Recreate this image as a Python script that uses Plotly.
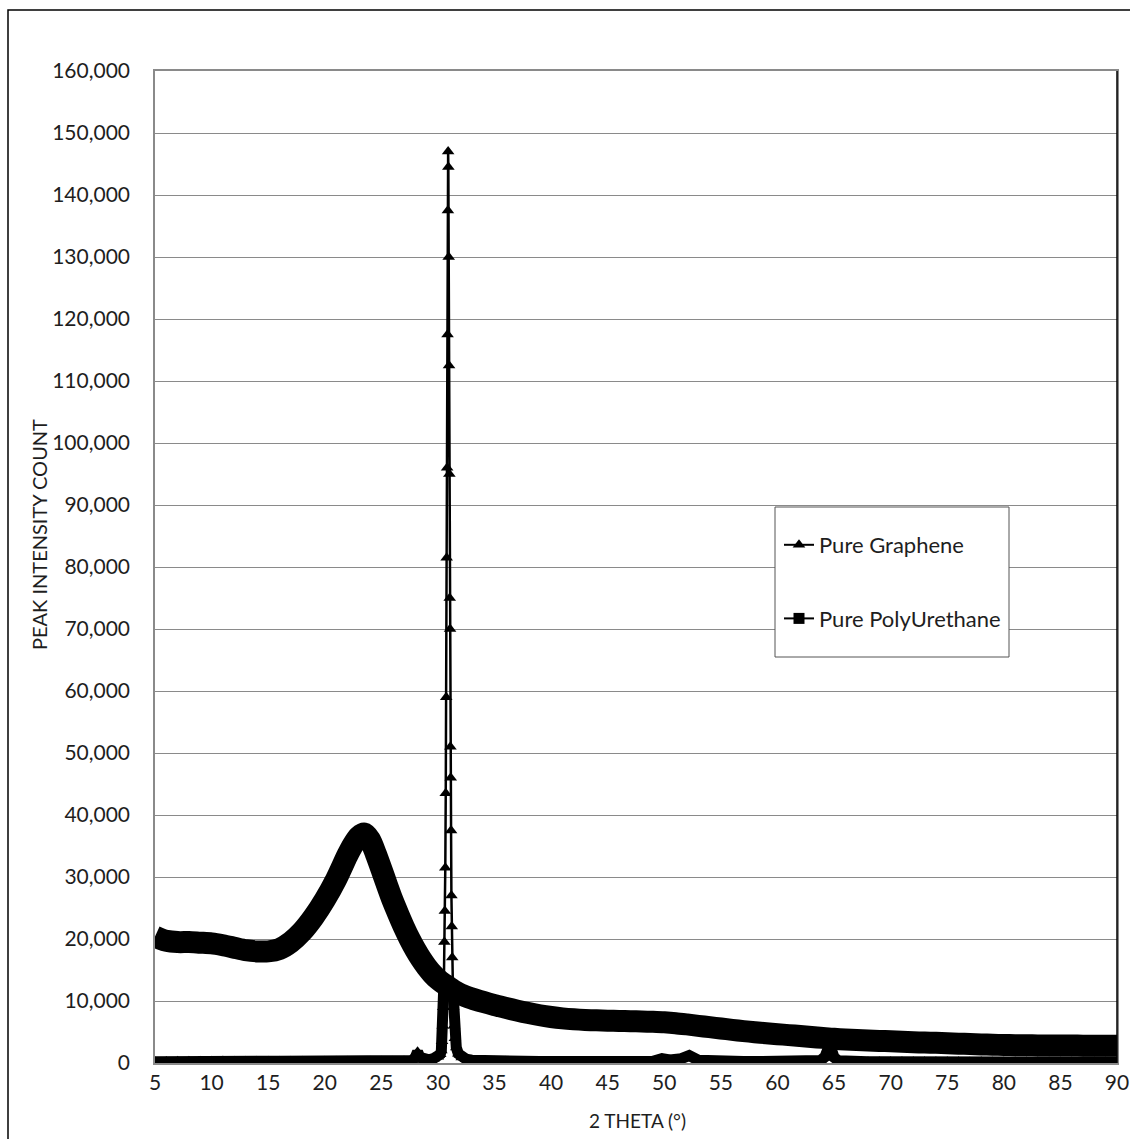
import plotly.graph_objects as go

# ---- data ----
x_ticks = list(range(5, 95, 5))
y_ticks = list(range(0, 170000, 10000))

pu_x = [5, 5.5, 6, 7, 8, 9, 10, 11, 12, 13, 14, 15, 16, 17, 18, 19, 20, 21, 22, 22.5, 23, 23.5,
        24, 24.5, 25, 25.5, 26, 26.5, 27, 27.5, 28, 28.5, 29, 29.5, 30, 30.5, 31, 31.5, 32, 33,
        34, 35, 36, 37, 38, 39, 40, 41, 42, 43, 44, 45, 46, 47, 48, 49, 50, 51, 52, 53, 54, 55,
        56, 57, 58, 59, 60, 61, 62, 63, 64, 65, 66, 67, 68, 69, 70, 71, 72, 73, 74, 75, 76, 77,
        78, 79, 80, 81, 82, 83, 84, 85, 86, 87, 88, 89, 90]
pu_y = [20400, 20000, 19700, 19500, 19500, 19400, 19300, 19000, 18600, 18200, 18000, 18000, 18400,
        19500, 21200, 23500, 26300, 29600, 33500, 35200, 36500, 37000,
        36000, 33800, 31300, 28700, 26200, 24000, 21900, 20000, 18300, 16800, 15500, 14400, 13500,
        12800, 12200, 11600, 11100, 10400,
        9850, 9350, 8900, 8450, 8050, 7700, 7420, 7200, 7050, 6950, 6880, 6830, 6780, 6740, 6700,
        6640, 6560, 6420, 6220, 6000, 5780, 5560,
        5350, 5150, 4960, 4800, 4650, 4500, 4350, 4200, 4050, 3900, 3800, 3700, 3630, 3560, 3500,
        3420, 3350, 3300, 3250, 3180, 3120, 3060,
        3000, 2950, 2900, 2880, 2860, 2840, 2830, 2820, 2810, 2800, 2800, 2800, 2800]

gr_x = [5, 6, 7, 8, 9, 10, 11, 12, 13, 14, 15, 16, 17, 18, 19, 20, 21, 22, 23, 24, 25, 26, 27,
        27.7, 28.0, 28.2, 28.4, 28.8, 29.2, 29.6, 30.0, 30.2,
        30.30, 30.36, 30.42, 30.47, 30.52, 30.57, 30.61, 30.65, 30.69, 30.73, 30.77, 30.81, 30.85,
        30.88, 30.90, 30.92, 30.95, 30.98, 31.01, 31.04, 31.07, 31.10, 31.13, 31.16, 31.19, 31.22,
        31.26, 31.30, 31.35, 31.42, 31.50, 31.62, 31.8, 32.1, 32.5,
        33, 34, 35, 36, 37, 38, 39, 40, 41, 42, 43, 44, 45, 46, 47, 48, 49, 49.8, 50.5, 51.5, 52.2,
        53, 54, 55, 56, 57, 58, 59, 60, 61, 62, 63, 63.8, 64.2, 64.4, 64.6, 64.8, 65.0, 65.4, 66,
        67, 68, 69, 70, 71, 72, 73, 74, 75, 76, 77, 78, 79, 80, 81, 82, 83, 84, 85, 86, 87, 88, 89, 90]
gr_y = [200, 250, 300, 300, 280, 300, 320, 300, 280, 300, 300, 280, 300, 280, 260, 280, 300, 280,
        260, 280, 300, 300, 320,
        400, 900, 1800, 900, 450, 500, 700, 1000, 1400,
        2000, 3500, 6000, 9000, 12500, 19500, 24500, 31500, 43500, 59000, 81500, 96000, 117500,
        137500, 147000, 144500, 130000, 112500, 95000, 75000, 70000, 51000, 46000, 37500, 27000, 22000,
        17000, 12500, 9000, 6000, 4000, 2500, 1500, 900, 600,
        450, 350, 300, 280, 260, 250, 240, 230, 240, 230, 220, 230, 220, 230, 240, 230, 260, 700, 500, 700, 1200,
        450, 300, 260, 250, 240, 230, 240, 230, 220, 230, 260, 400, 1000, 2000, 2900, 2000, 900, 350, 250,
        220, 210, 200, 210, 200, 190, 200, 190, 200, 190, 180, 190, 180, 170, 180, 170, 160, 170, 160,
        150, 160, 150, 150, 150]

FONT = "Lato"
TXT = "#1e1e1e"

# figure fills the window from (0, 0) (body margin and scrollbars removed in post_script)
W, H = 1130, 1139
L, R, T, B = 155, 13, 71, 76
PW, PH = W - L - R, H - T - B


def px_x(p):  # window pixel -> paper x
    return (p - L) / PW


def px_y(p):  # window pixel -> paper y
    return (H - B - p) / PH


fig = go.Figure()

fig.add_trace(go.Scatter(
    x=pu_x, y=pu_y, mode="lines", name="Pure PolyUrethane",
    line=dict(color="black", width=22, shape="spline", smoothing=0.7),
    showlegend=False, hoverinfo="skip"))

# graphene: thick band where counts are low, thin line on the sharp peak
gr_low = [v if v <= 13000 else None for v in gr_y]
fig.add_trace(go.Scatter(
    x=gr_x, y=gr_low, mode="lines", line=dict(color="black", width=11),
    showlegend=False, hoverinfo="skip", connectgaps=False))
fig.add_trace(go.Scatter(
    x=gr_x, y=gr_y, mode="lines+markers", name="Pure Graphene",
    line=dict(color="black", width=2.5),
    marker=dict(symbol="triangle-up", size=11, color="black"),
    showlegend=False, hoverinfo="skip"))

# legend-only entries
fig.add_trace(go.Scatter(
    x=[None], y=[None], mode="lines+markers", name="Pure Graphene", legendgroup="g",
    line=dict(color="black", width=2),
    marker=dict(symbol="triangle-up", size=11, color="black")))
fig.add_trace(go.Scatter(
    x=[None], y=[None], mode="lines+markers", name="Pure PolyUrethane", legendgroup="p",
    line=dict(color="black", width=2),
    marker=dict(symbol="square", size=11, color="black")))

fig.update_layout(
    width=W, height=H, autosize=False,
    margin=dict(l=L, r=R, t=T, b=B, autoexpand=False),
    paper_bgcolor="white", plot_bgcolor="white",
    font=dict(family=FONT, size=21, color=TXT),
    showlegend=True,
    legend=dict(
        x=px_x(779), y=px_y(524), xanchor="left", yanchor="top",
        borderwidth=0, bgcolor="rgba(0,0,0,0)",
        font=dict(family=FONT, size=22, color=TXT),
        tracegroupgap=42, itemwidth=30,
    ),
    xaxis=dict(
        range=[5, 90], tickmode="array", tickvals=x_ticks, ticktext=[str(v) for v in x_ticks],
        showgrid=False, zeroline=False, automargin=False,
        showline=True, linecolor="#8a8a8a", linewidth=1.5, mirror=True,
        ticks="", tickfont=dict(family=FONT, size=21, color=TXT), ticklabeloverflow="allow",
    ),
    yaxis=dict(
        range=[0, 160000], tickmode="array", tickvals=y_ticks,
        ticktext=[f"{v:,}" for v in y_ticks], automargin=False,
        showgrid=True, gridcolor="#8a8a8a", gridwidth=1.3, zeroline=False,
        showline=True, linecolor="#8a8a8a", linewidth=1.5, mirror=True,
        ticks="", ticklabelstandoff=19, tickfont=dict(family=FONT, size=21, color=TXT),
    ),
    annotations=[
        dict(text="2 THETA (°)", xref="paper", yref="paper", x=px_x(637), y=px_y(1120),
             xanchor="center", yanchor="middle", showarrow=False,
             font=dict(family=FONT, size=19, color=TXT)),
        dict(text="PEAK INTENSITY COUNT", xref="paper", yref="paper", x=px_x(39), y=px_y(535),
             xanchor="center", yanchor="middle", showarrow=False, textangle=-90,
             font=dict(family=FONT, size=20, color=TXT)),
    ],
)

# legend box
fig.add_shape(type="rect", xref="paper", yref="paper",
              x0=px_x(775), x1=px_x(1009), y0=px_y(657), y1=px_y(507),
              line=dict(color="#555", width=1), fillcolor="white", layer="above")
# outer chart border and darker right edge of plot area
fig.add_shape(type="rect", xref="paper", yref="paper",
              x0=px_x(8), x1=px_x(1140), y0=px_y(1150), y1=px_y(10),
              line=dict(color="black", width=1.5), fillcolor="rgba(0,0,0,0)", layer="below")
fig.add_shape(type="line", xref="paper", yref="paper", x0=1, x1=1, y0=0, y1=1,
              line=dict(color="black", width=1.5))

post = (
    "document.documentElement.style.overflow='hidden';"
    "document.body.style.overflow='hidden';"
    "document.body.style.margin='0';"
    "var gd=document.getElementById('{plot_id}');"
    "Plotly.relayout(gd,{width:%d,height:%d});" % (W, H)
)

fig.write_html("out.html", config={"responsive": False, "displayModeBar": False},
               post_script=post)
